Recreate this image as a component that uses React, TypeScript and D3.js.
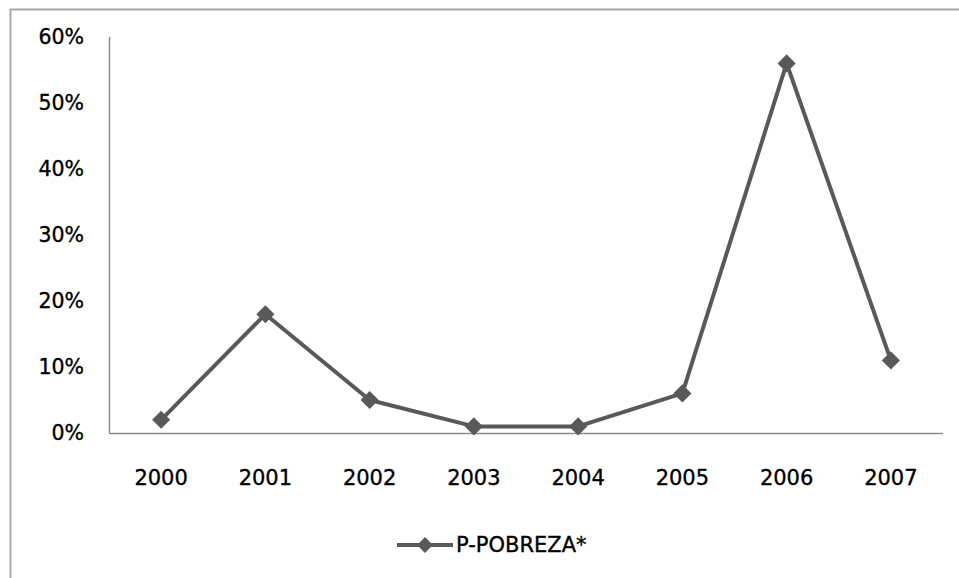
import React, { useEffect } from "react";
import * as d3 from "d3";

const years = ["2000", "2001", "2002", "2003", "2004", "2005", "2006", "2007"];
const pobreza = [0.02, 0.18, 0.05, 0.01, 0.01, 0.06, 0.56, 0.11];
const yTicks = [0, 0.1, 0.2, 0.3, 0.4, 0.5, 0.6];
const seriesName = "P-POBREZA*";

const W = 959;
const H = 578;
const FONT = "'DejaVu Sans', Verdana, sans-serif";
const LINE = "#595959";

export default function App() {
  useEffect(() => {
    document.body.style.margin = "0";
  }, []);

  const x = d3.scaleBand<string>().domain(years).range([109, 943]);
  const y = d3.scaleLinear().domain([0, 0.6]).range([433, 37]);
  const cx = (d: string) => (x(d) as number) + x.bandwidth() / 2;

  const line = d3
    .line<number>()
    .x((_, i) => cx(years[i]))
    .y((v) => y(v));

  const diamond = d3.symbol().type(d3.symbolDiamond2).size(210)() as string;
  const legendDiamond = d3.symbol().type(d3.symbolDiamond2).size(160)() as string;
  const fmt = d3.format(".0%");
  const textStyle = { stroke: "#000", strokeWidth: 0.35 } as React.CSSProperties;

  return (
    <svg width={W} height={H} style={{ display: "block", background: "#fff" }}>
      <rect x={10.5} y={9.5} width={1000} height={1000} fill="#fff" stroke="#a6a6a6" strokeWidth={2} />
      {/* axes */}
      <line x1={109.5} x2={109.5} y1={y(0.6)} y2={y(0)} stroke="#8c8c8c" strokeWidth={1.5} />
      <line x1={109} x2={943} y1={y(0) + 0.5} y2={y(0) + 0.5} stroke="#8c8c8c" strokeWidth={1.5} />
      {yTicks.map((t) => (
        <text
          key={t}
          x={84}
          y={y(t)}
          textAnchor="end"
          dominantBaseline="central"
          fontFamily={FONT}
          fontSize={20.5}
          fill="#000"
          style={textStyle}
        >
          {fmt(t)}
        </text>
      ))}
      {years.map((yr) => (
        <text
          key={yr}
          x={cx(yr)}
          y={478}
          textAnchor="middle"
          dominantBaseline="central"
          fontFamily={FONT}
          fontSize={21}
          fill="#000"
          style={textStyle}
        >
          {yr}
        </text>
      ))}
      <path d={line(pobreza) as string} fill="none" stroke={LINE} strokeWidth={4} strokeLinejoin="round" />
      {pobreza.map((v, i) => (
        <path key={i} d={diamond} transform={`translate(${cx(years[i])},${y(v)})`} fill={LINE} />
      ))}
      {/* legend */}
      <line x1={397} x2={453} y1={545} y2={545} stroke={LINE} strokeWidth={4} />
      <path d={legendDiamond} transform="translate(425,545)" fill={LINE} />
      <text
        x={456}
        y={545}
        dominantBaseline="central"
        fontFamily={FONT}
        fontSize={21}
        fill="#000"
        style={textStyle}
      >
        {seriesName}
      </text>
    </svg>
  );
}
